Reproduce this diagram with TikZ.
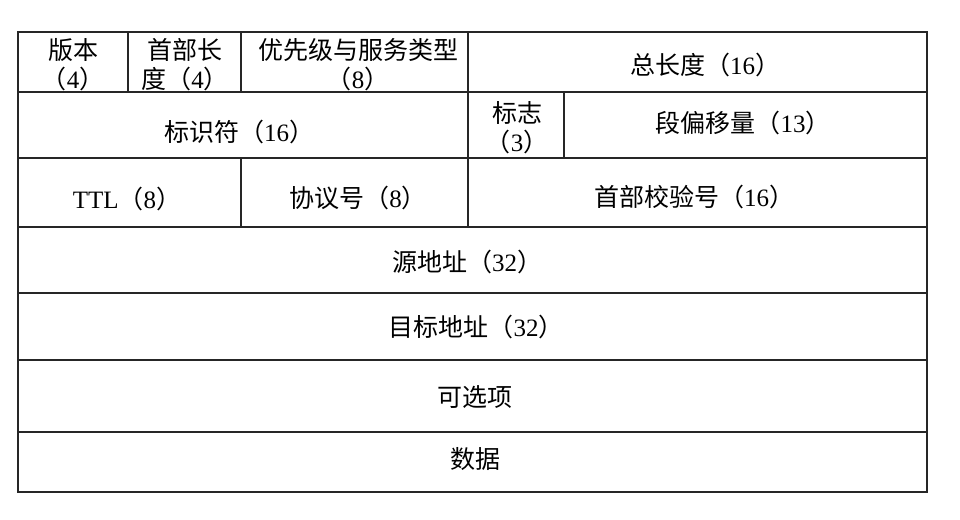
\documentclass[tikz,border=0pt]{standalone}
\usepackage{fontspec}
\setmainfont{Liberation Serif}
\newfontfamily\cjk{Noto Sans CJK SC}
\newcommand\numr[1]{{\rmfamily #1}}
\begin{document}
\begin{tikzpicture}[x=1pt,y=-1pt,
  cell/.style={font=\cjk\fontsize{25}{29}\selectfont, align=center, inner sep=0pt},
  frame/.style={line width=2.6pt, black!85},
  rule/.style={line width=2pt, black!85}]
\useasboundingbox[fill=white] (0,0) rectangle (960,519);
% horizontal rules
\draw[rule] (18,92) -- (927,92);
\draw[rule] (18,158) -- (927,158);
\draw[rule] (18,227) -- (927,227);
\draw[rule] (18,293) -- (927,293);
\draw[rule] (18,360) -- (927,360);
\draw[rule] (18,432) -- (927,432);
% vertical rules
\draw[rule] (128,32) -- (128,92);
\draw[rule] (241,32) -- (241,92);
\draw[rule] (241,158) -- (241,227);
\draw[rule] (468,32) -- (468,227);
\draw[rule] (564,92) -- (564,158);
% outer frame
\draw[frame] (18,32) rectangle (927,492);
% texts
\node[cell] (ver)  at (73,65)  {版本\\（\numr{4}）};
\node[cell] (ihl)  at (185,65) {首部长\\度（\numr{4}）};
\node[cell] (tos)  at (358,65) {优先级与服务类型\\（\numr{8}）};
\node[cell] (len)  at (705,65) {总长度（\numr{16}）};
\node[cell] (id)   at (239,132) {标识符（\numr{16}）};
\node[cell] (flag) at (517,128) {标志\\（\numr{3}）};
\node[cell] (off)  at (743,123) {段偏移量（\numr{13}）};
\node[cell] (ttl)  at (127,199) {\numr{TTL}（\numr{8}）};
\node[cell] (prot) at (358,198) {协议号（\numr{8}）};
\node[cell] (chk)  at (694,197) {首部校验号（\numr{16}）};
\node[cell] (src)  at (467,262) {源地址（\numr{32}）};
\node[cell] (dst)  at (476,327) {目标地址（\numr{32}）};
\node[cell] (opt)  at (475,397) {可选项};
\node[cell] (data) at (475,459) {数据};
\end{tikzpicture}
\end{document}
